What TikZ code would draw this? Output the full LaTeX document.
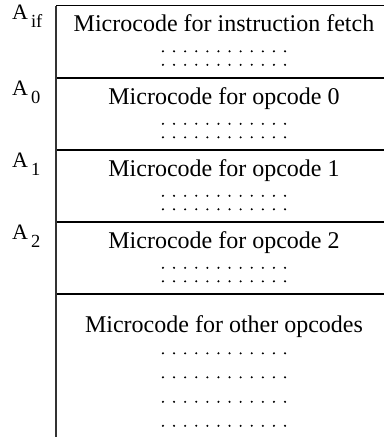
\documentclass[tikz,border=0pt]{standalone}
\usepackage{fontspec}
\setmainfont{Liberation Serif}
\newcommand{\addr}[1]{{\fontsize{22}{24}\selectfont A}\hspace{3pt}\raisebox{-8pt}{\fontsize{18.5}{20}\selectfont #1}}
\tikzset{
    cell/.style={anchor=base,inner sep=0pt,font=\fontsize{24}{28}\selectfont},
    dotrow/.style={line width=2.3pt,line cap=round,dash pattern=on 0pt off 11.1pt},
    addrlabel/.style={anchor=base west,inner sep=0pt},
    sep/.style={line width=2pt}
}
\begin{document}
\begin{tikzpicture}[x=1pt,y=-1pt]
                \useasboundingbox (0,0) rectangle (384,437);
                % memory column
                \draw[line width=1pt] (56,5.5) -- (384,5.5);
                \draw[sep] (56,78) -- (384,78);
                \draw[sep] (56,150) -- (384,150);
                \draw[sep] (56,222) -- (384,222);
                \draw[sep] (56,294) -- (384,294);
                \draw[line width=1.2pt,black!80] (56,5.5) -- (56,437);
                % addresses
                \node[addrlabel] (Aif) at (12,19) {\addr{if}};
                \node[addrlabel] (A0) at (12,95) {\addr{0}};
                \node[addrlabel] (A1) at (12,167) {\addr{1}};
                \node[addrlabel] (A2) at (12,239) {\addr{2}};
                % contents
                \node[cell] (fetch) at (224,31) {Microcode for instruction fetch};
                \draw[dotrow] (162.95,51.3) -- ++(122.1,0);
                \draw[dotrow] (162.95,64.8) -- ++(122.1,0);
                \node[cell] (opzero) at (224,104) {Microcode for opcode 0};
                \draw[dotrow] (162.95,123.8) -- ++(122.1,0);
                \draw[dotrow] (162.95,137.3) -- ++(122.1,0);
                \node[cell] (opone) at (224,176) {Microcode for opcode 1};
                \draw[dotrow] (162.95,195.8) -- ++(122.1,0);
                \draw[dotrow] (162.95,209.3) -- ++(122.1,0);
                \node[cell] (optwo) at (224,248) {Microcode for opcode 2};
                \draw[dotrow] (162.95,267.8) -- ++(122.1,0);
                \draw[dotrow] (162.95,281.3) -- ++(122.1,0);
                \node[cell] (other) at (224,332) {Microcode for other opcodes};
                \draw[dotrow] (162.95,353.3) -- ++(122.1,0);
                \draw[dotrow] (162.95,377.3) -- ++(122.1,0);
                \draw[dotrow] (162.95,401.8) -- ++(122.1,0);
                \draw[dotrow] (162.95,425.8) -- ++(122.1,0);
            \end{tikzpicture}
\end{document}
